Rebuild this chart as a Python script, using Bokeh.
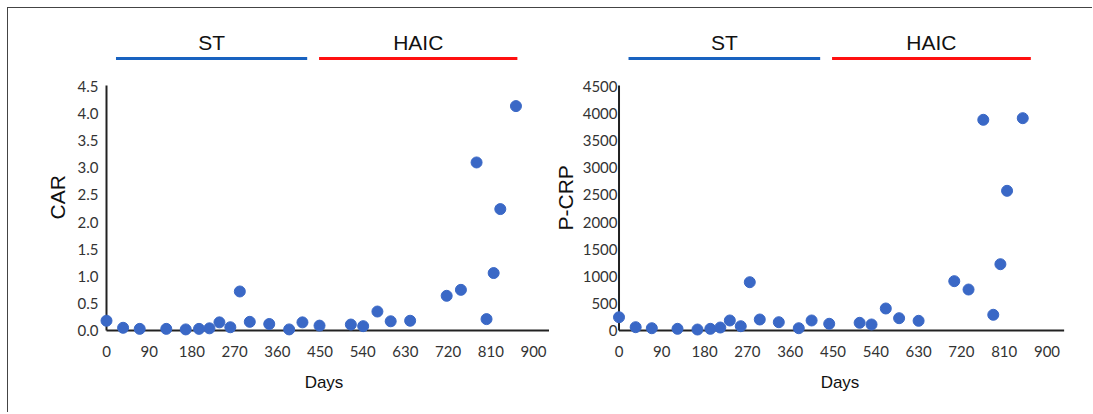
from bokeh.plotting import figure
from bokeh.layouts import row
from bokeh.models import Range1d, FixedTicker, Title
from bokeh.core.properties import value
from bokeh.embed import file_html
from bokeh.resources import INLINE

# ---- data ----
days_car = [0, 35, 70, 126, 167, 195, 217, 238, 261, 281, 302, 343, 385, 413,
            449, 515, 541, 571, 599, 640, 717, 747, 780, 801, 816, 830, 863]
car = [0.18, 0.05, 0.03, 0.03, 0.02, 0.03, 0.04, 0.15, 0.06, 0.72, 0.16, 0.12,
       0.02, 0.15, 0.09, 0.11, 0.08, 0.35, 0.17, 0.18, 0.64, 0.75, 3.10, 0.21,
       1.06, 2.24, 4.14]

days_crp = [0, 35, 69, 123, 165, 192, 213, 233, 256, 275, 296, 336, 378, 405,
            442, 506, 531, 561, 589, 630, 705, 735, 766, 787, 802, 816, 849]
crp = [245, 61, 42, 31, 18, 31, 55, 185, 79, 891, 203, 153, 42, 185, 124, 142,
       111, 406, 227, 179, 910, 756, 3887, 290, 1223, 2577, 3917]

x_ticks = [0, 90, 180, 270, 360, 450, 540, 630, 720, 810, 900]
x_tick_labels = ["0", "90", "180", "270", "360", "450", "540", "630", "720", "810", "900"]
car_ticks = [0.0, 0.5, 1.0, 1.5, 2.0, 2.5, 3.0, 3.5, 4.0, 4.5]
car_tick_labels = ["0.0", "0.5", "1.0", "1.5", "2.0", "2.5", "3.0", "3.5", "4.0", "4.5"]
crp_ticks = [0, 500, 1000, 1500, 2000, 2500, 3000, 3500, 4000, 4500]
crp_tick_labels = ["0", "500", "1000", "1500", "2000", "2500", "3000", "3500", "4000", "4500"]

phase_names = ["ST", "HAIC"]
phase_start = [20, 448]
phase_end = [423, 866]
phase_colors = ["#1862c0", "#ff1010"]

POINT = "#3a68c6"
AXIS = "#222222"
TICK_FONT = "Lato"
LABEL_FONT = "Liberation Sans"


def panel(days, vals, yticks, ylabels, ylabel, yscale, width, mbl, mbr,
          x0, x1, x_end, ystandoff, ylab_standoff, ylab_offset):
    y0 = -0.1476 * yscale
    y1 = 5.756 * yscale
    p = figure(width=width, height=404, output_backend="svg", toolbar_location=None,
               x_range=Range1d(x0, x1), y_range=Range1d(y0, y1),
               min_border_left=mbl, min_border_right=mbr, min_border_top=10,
               min_border_bottom=74, x_axis_label="Days")
    p.outline_line_color = None
    p.grid.visible = False
    p.background_fill_color = "white"
    p.border_fill_color = "white"

    # phase bars and titles
    mids = [(a + b) / 2 for a, b in zip(phase_start, phase_end)]
    p.segment(x0=phase_start, x1=phase_end, y0=[5.02 * yscale] * 2, y1=[5.02 * yscale] * 2,
              line_color=phase_colors, line_width=3)
    p.text(x=mids, y=[5.31 * yscale] * 2, text=phase_names, text_align="center",
           text_baseline="middle", text_font=value(LABEL_FONT), text_font_size="21px",
           text_color="#111111")

    # axis lines
    p.segment(x0=[0, 0], x1=[x_end, 0], y0=[0, 0], y1=[0, 4.52 * yscale],
              line_color=AXIS, line_width=2)

    p.scatter(days, vals, size=11, fill_color=POINT, line_color=POINT, line_width=1)

    xa = p.xaxis[0]
    xa.ticker = FixedTicker(ticks=x_ticks)
    xa.major_label_overrides = {t: l for t, l in zip(x_ticks, x_tick_labels)}
    ya = p.yaxis[0]
    ya.ticker = FixedTicker(ticks=yticks)
    ya.major_label_overrides = {t: l for t, l in zip(yticks, ylabels)}
    for ax in (xa, ya):
        ax.axis_line_color = None
        ax.major_tick_line_color = None
        ax.minor_tick_line_color = None
        ax.major_tick_out = 0
        ax.major_tick_in = 0
        ax.major_label_text_font = TICK_FONT
        ax.major_label_text_font_size = "15px"
        ax.major_label_text_color = "#333333"
        ax.axis_label_text_font = LABEL_FONT
        ax.axis_label_text_font_style = "normal"
        ax.axis_label_text_color = "#111111"
    xa.major_label_standoff = 7
    xa.axis_label_standoff = 13
    xa.axis_label_text_font_size = "17px"
    ya.major_label_standoff = ystandoff

    # y axis title, placed in the left side panel
    p.add_layout(Title(text=ylabel, align="left", offset=ylab_offset,
                       vertical_align="middle", standoff=ylab_standoff,
                       text_font=LABEL_FONT, text_font_size="21px",
                       text_font_style="normal", text_color="#111111"), "left")
    return p


p1 = panel(days_car, car, car_ticks, car_tick_labels, "CAR", 1.0,
           width=541, mbl=90, mbr=0, x0=-16.86, x1=933.7, x_end=933,
           ystandoff=0, ylab_standoff=9, ylab_offset=119)
p2 = panel(days_crp, crp, crp_ticks, crp_tick_labels, "P-CRP", 1000.0,
           width=543, mbl=62, mbr=24, x0=-15.8, x1=945.2, x_end=936,
           ystandoff=-6, ylab_standoff=4, ylab_offset=108)

layout = row(p1, p2, styles={"border-top": "1.5px solid #444444",
                             "border-left": "1.5px solid #444444",
                             "margin-left": "7px", "margin-top": "7px"})

open("out.html", "w").write(file_html(layout, INLINE))
